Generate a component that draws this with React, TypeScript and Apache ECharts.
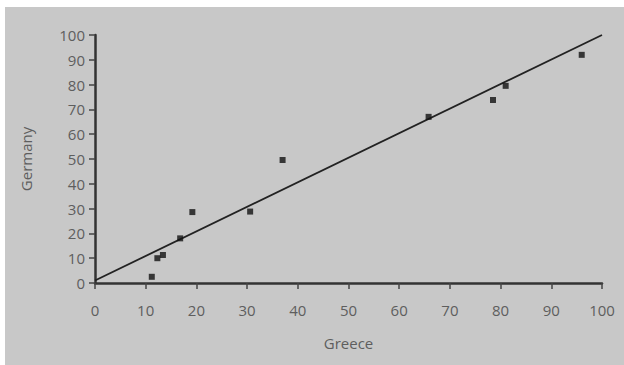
import React, { useEffect, useRef } from "react";
import * as echarts from "echarts";

const greece = [11.2, 12.3, 13.4, 16.8, 19.2, 30.6, 37, 65.8, 78.5, 81, 96];
const germany = [2.5, 10, 11.3, 18, 28.6, 28.8, 49.6, 67, 73.8, 79.5, 92];
const fitX = [0, 100];
const fitY = [1, 100];
const ticks = [0, 10, 20, 30, 40, 50, 60, 70, 80, 90, 100];

export default function App() {
  const ref = useRef<HTMLDivElement>(null);
  useEffect(() => {
    document.body.style.margin = "0";
    const chart = echarts.init(ref.current!, undefined, { renderer: "svg" });
    const font = "Open Sans";
    chart.setOption({
      animation: false,
      backgroundColor: "#ffffff",
      graphic: [
        {
          type: "rect",
          z: -10,
          shape: { x: 5, y: 7, width: 619, height: 358 },
          style: { fill: "#c8c8c8" },
        },
      ],
      grid: { left: 95, right: 22, top: 35, bottom: 82 },
      xAxis: {
        type: "value",
        min: ticks[0],
        max: ticks[ticks.length - 1],
        interval: 10,
        name: "Greece",
        nameLocation: "middle",
        nameGap: 52,
        nameTextStyle: { color: "#5e5e5e", fontSize: 15, fontFamily: font },
        axisLine: { show: true, lineStyle: { color: "#333", width: 2.5 } },
        axisTick: { show: true, length: 6, lineStyle: { color: "#444", width: 1.5 } },
        axisLabel: { color: "#5e5e5e", fontSize: 15, fontFamily: font, margin: 19 },
        splitLine: { show: false },
      },
      yAxis: {
        type: "value",
        min: ticks[0],
        max: ticks[ticks.length - 1],
        interval: 10,
        name: "Germany",
        nameLocation: "middle",
        nameGap: 62,
        nameTextStyle: { color: "#5e5e5e", fontSize: 15, fontFamily: font },
        axisLine: { show: true, lineStyle: { color: "#333", width: 2.5 } },
        axisTick: { show: true, length: 6, lineStyle: { color: "#444", width: 1.5 } },
        axisLabel: { color: "#5e5e5e", fontSize: 15, fontFamily: font, margin: 10 },
        splitLine: { show: false },
      },
      series: [
        {
          type: "line",
          data: fitX.map((x, i) => [x, fitY[i]]),
          symbol: "none",
          lineStyle: { color: "#222", width: 1.8 },
          z: 2,
        },
        {
          type: "scatter",
          data: greece.map((x, i) => [x, germany[i]]),
          symbol: "rect",
          symbolSize: 6,
          itemStyle: { color: "#111" },
          z: 3,
        },
      ],
    });
    return () => chart.dispose();
  }, []);
  return <div ref={ref} style={{ width: 624, height: 365 }} />;
}
